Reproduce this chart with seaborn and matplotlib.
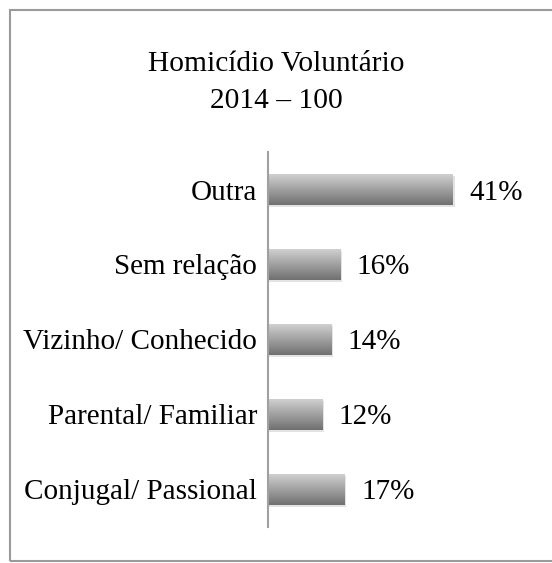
import numpy as np
import pandas as pd
import matplotlib
matplotlib.use('Agg')
import matplotlib.pyplot as plt
import seaborn as sns
from matplotlib.patches import Rectangle
from matplotlib.colors import LinearSegmentedColormap

categories = ['Outra', 'Sem relação', 'Vizinho/ Conhecido', 'Parental/ Familiar', 'Conjugal/ Passional']
percent = [41, 16, 14, 12, 17]
title_lines = ['Homicídio Voluntário', '2014 – 100']

sns.set_style('white')
plt.rcParams['font.family'] = ['Liberation Serif', 'DejaVu Serif']
plt.rcParams['text.color'] = 'black'
plt.rcParams['ytick.color'] = 'black'

df = pd.DataFrame({'categoria': categories, 'pct': percent})

fig = plt.figure(figsize=(5.52, 5.63), dpi=100)
ax = fig.add_axes([0.4855, 0.064, 0.42, 0.666])

sns.barplot(data=df, y='categoria', x='pct', orient='h', ax=ax, width=0.41,
            color='#999999', order=categories)

# gray gradient fill (light on top, darker below) with a soft shadow
cmap = LinearSegmentedColormap.from_list('grad', ['#d0d0d0', '#707070'])
grad = np.linspace(0, 1, 64).reshape(-1, 1)
for p in ax.patches:
    x0, y0, w, h = p.get_x(), p.get_y(), p.get_width(), p.get_height()
    shadow = Rectangle((x0, y0 + 0.03), w + 0.35, h, facecolor='#dddddd',
                       edgecolor='none', zorder=1, alpha=0.8)
    ax.add_patch(shadow)
    p.set_facecolor('none')
    p.set_edgecolor('none')
    ax.imshow(grad, cmap=cmap, aspect='auto', extent=(x0, x0 + w, y0 + h, y0),
              zorder=2, interpolation='bicubic')

labels = ax.bar_label(ax.containers[0], labels=[f'{v}%' for v in percent], padding=12,
                      fontsize=21, color='black')
for t in labels:
    t.set_va('center_baseline')

ax.set_xlim(0, 51.4)
ax.set_ylim(4.5, -0.5)
ax.set_xlabel('')
ax.set_ylabel('')
ax.set_xticks([])
ax.tick_params(axis='y', length=0, pad=8, labelsize=21, labelcolor='black')
for t in ax.get_yticklabels():
    t.set_va('center_baseline')
for side in ['top', 'right', 'bottom']:
    ax.spines[side].set_visible(False)
ax.spines['left'].set_color('#a0a0a0')
ax.spines['left'].set_linewidth(1.5)

fig.text(0.5, 1 - 71 / 563, title_lines[0], ha='center', va='baseline', fontsize=21.2)
fig.text(0.5, 1 - 108 / 563, title_lines[1], ha='center', va='baseline', fontsize=21.2)

# outer frame
frame = Rectangle((10 / 552, 2 / 563), 1.0, 551 / 563, transform=fig.transFigure,
                  facecolor='none', edgecolor='#9a9a9a', linewidth=1.5)
fig.patches.append(frame)

fig.savefig('out.png', dpi=100)
